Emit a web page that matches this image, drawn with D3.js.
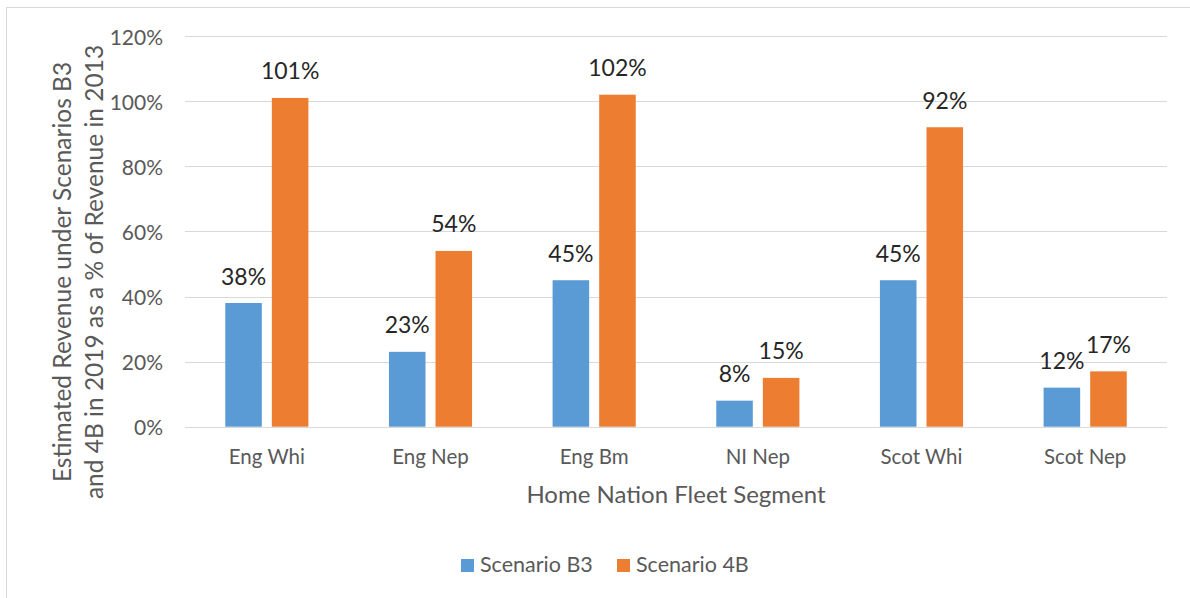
<!DOCTYPE html>
<html><head><meta charset="utf-8">
<script src="https://cdn.jsdelivr.net/npm/d3@7"></script>
<style>body{margin:0;background:#fff;} svg{display:block;} text{font-family:Lato,"Open Sans",sans-serif;}</style>
</head><body>
<svg id="chart" width="1190" height="598"></svg>
<script>
const categories = ["Eng Whi","Eng Nep","Eng Bm","NI Nep","Scot Whi","Scot Nep"];
const seriesNames = ["Scenario B3","Scenario 4B"];
const scenarioB3 = [38,23,45,8,45,12];
const scenario4B = [101,54,102,15,92,17];
const yTicks = [0,20,40,60,80,100,120];
const colors = ["#5B9BD5","#ED7D31"];

(function(){
const svg = d3.select("#chart");
svg.append("rect").attr("x",6.5).attr("y",7.5).attr("width",1190).attr("height",600)
  .attr("fill","#fff").attr("stroke","#d9d9d9").attr("stroke-width",1);

const pLeft=185, pRight=1167, pTop=36.1, pBottom=426.7;
const x0 = d3.scaleBand().domain(categories).range([pLeft,pRight]).padding(0);
const bw = x0.bandwidth();
const x1 = d3.scaleBand().domain(seriesNames).range([bw*0.246, bw*0.754]).paddingInner(0.215).paddingOuter(0);
const y = d3.scaleLinear().domain([0,120]).range([pBottom,pTop]);

svg.append("g").selectAll("line").data(yTicks).join("line")
  .attr("x1",pLeft).attr("x2",pRight)
  .attr("y1",d=>Math.round(y(d))+0.5).attr("y2",d=>Math.round(y(d))+0.5)
  .attr("stroke","#d9d9d9").attr("stroke-width",1);

const yAxis = d3.axisLeft(y).tickValues(yTicks).tickFormat(d=>d+"%").tickSize(0).tickPadding(0);
const ya = svg.append("g").attr("transform",`translate(163,1.5)`).call(yAxis);
ya.select(".domain").remove();
ya.selectAll("text").attr("font-size",21).attr("fill","#595959").attr("font-family","Lato");

const xAxis = d3.axisBottom(x0).tickSize(0).tickPadding(0);
const xa = svg.append("g").attr("transform",`translate(0,449)`).call(xAxis);
xa.select(".domain").remove();
xa.selectAll("text").attr("font-size",20.5).attr("fill","#595959").attr("font-family","Lato");

const data = categories.map((c,i)=>({cat:c, vals:[scenarioB3[i], scenario4B[i]]}));
const groups = svg.append("g").selectAll("g").data(data).join("g")
  .attr("transform",d=>`translate(${x0(d.cat)},0)`);
groups.selectAll("rect").data(d=>d.vals.map((v,j)=>({s:seriesNames[j],v,j}))).join("rect")
  .attr("x",d=>x1(d.s)).attr("width",x1.bandwidth())
  .attr("y",d=>y(d.v)).attr("height",d=>y(0)-y(d.v))
  .attr("fill",d=>colors[d.j]);
groups.selectAll("text.lab").data(d=>d.vals.map((v,j)=>({s:seriesNames[j],v,j}))).join("text")
  .attr("class","lab")
  .attr("x",d=>x1(d.s)+x1.bandwidth()/2).attr("y",d=>y(d.v)-18.5)
  .attr("text-anchor","middle").attr("font-size",23).attr("fill","#262626")
  .text(d=>d.v+"%");

svg.append("text").attr("x",676).attr("y",503).attr("text-anchor","middle")
  .attr("font-size",24).attr("fill","#595959").text("Home Nation Fleet Segment");

const yt = svg.append("text").attr("transform","translate(0,272) rotate(-90)")
  .attr("text-anchor","middle").attr("font-size",24.5).attr("fill","#595959");
yt.append("tspan").attr("x",0).attr("y",71).text("Estimated Revenue under Scenarios B3");
yt.append("tspan").attr("x",0).attr("y",103).text("and 4B in 2019 as a % of Revenue in 2013");

const legX=[461,617];
const lg = svg.append("g").selectAll("g").data(seriesNames).join("g")
  .attr("transform",(d,i)=>`translate(${legX[i]},559)`);
lg.append("rect").attr("width",13).attr("height",13).attr("fill",(d,i)=>colors[i]);
lg.append("text").attr("x",19).attr("y",13).attr("font-size",21.5).attr("fill","#595959").text(d=>d);
})();
</script>
</body></html>
